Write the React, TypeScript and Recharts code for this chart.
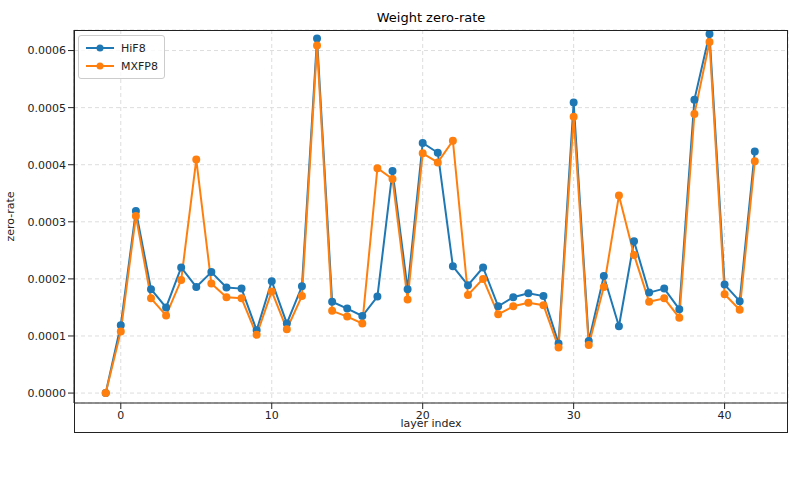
import * as React from 'react';
import { LineChart, Line, XAxis, YAxis, CartesianGrid } from 'recharts';

const layers = [-1, 0, 1, 2, 3, 4, 5, 6, 7, 8, 9, 10, 11, 12, 13, 14, 15, 16, 17, 18, 19, 20, 21, 22, 23, 24, 25, 26, 27, 28, 29, 30, 31, 32, 33, 34, 35, 36, 37, 38, 39, 40, 41, 42];
const hif8 = [0, 0.000119, 0.000319, 0.000182, 0.00015, 0.00022, 0.000186, 0.000212, 0.000185, 0.000183, 0.00011, 0.000196, 0.000122, 0.000187, 0.000621, 0.00016, 0.000148, 0.000135, 0.000169, 0.000389, 0.000182, 0.000438, 0.000421, 0.000222, 0.000189, 0.00022, 0.000152, 0.000168, 0.000175, 0.00017, 0.000087, 0.000509, 0.000091, 0.000205, 0.000117, 0.000266, 0.000176, 0.000183, 0.000147, 0.000514, 0.000629, 0.00019, 0.000161, 0.000423];
const mxfp8 = [0, 0.000108, 0.00031, 0.000166, 0.000136, 0.000198, 0.000409, 0.000192, 0.000168, 0.000166, 0.000102, 0.000178, 0.000112, 0.00017, 0.000609, 0.000144, 0.000134, 0.000122, 0.000394, 0.000375, 0.000164, 0.00042, 0.000404, 0.000442, 0.000172, 0.0002, 0.000138, 0.000152, 0.000158, 0.000154, 0.00008, 0.000484, 0.000084, 0.000186, 0.000346, 0.000242, 0.00016, 0.000166, 0.000132, 0.000489, 0.000615, 0.000173, 0.000146, 0.000406];
const xTicks = [0, 10, 20, 30, 40];
const yTicks = [0, 0.0001, 0.0002, 0.0003, 0.0004, 0.0005, 0.0006];

const data = layers.map((l, i) => ({ layer: l, HiF8: hif8[i], MXFP8: mxfp8[i] }));
const font = 'DejaVu Sans, sans-serif';

function LegendBox() {
  const items = [
    { name: 'HiF8', color: '#1f77b4' },
    { name: 'MXFP8', color: '#ff7f0e' },
  ];
  return (
    <div style={{ position: 'absolute', left: 78, top: 35, border: '1px solid #ccc', borderRadius: 3, background: 'rgba(255,255,255,0.8)', padding: '3px 6px', fontFamily: font, fontSize: 11 }}>
      {items.map((it) => (
        <div key={it.name} style={{ display: 'flex', alignItems: 'center', height: 18 }}>
          <svg width={30} height={10}>
            <line x1={1} y1={5} x2={29} y2={5} stroke={it.color} strokeWidth={2} />
            <circle cx={15} cy={5} r={3.5} fill={it.color} />
          </svg>
          <span style={{ marginLeft: 6, color: '#222' }}>{it.name}</span>
        </div>
      ))}
    </div>
  );
}

export default function App() {
  return (
    <div style={{ position: 'fixed', left: 0, top: 0, width: 801, height: 481, background: '#fff' }}>
      <div style={{ position: 'absolute', top: 10, left: 74, width: 714, textAlign: 'center', fontFamily: font, fontSize: 13 }}>
        Weight zero-rate
      </div>
      <LineChart width={801} height={481} data={data} margin={{ top: 30, right: 13, bottom: 48, left: 0 }}>
        <CartesianGrid stroke="#ddd" strokeDasharray="4 3" />
        <XAxis
          dataKey="layer"
          type="number"
          domain={[-3.1, 44.2]}
          ticks={xTicks}
          tick={{ fontSize: 11, fill: '#222', fontFamily: font }}
          stroke="#222"
          label={{ value: 'layer index', position: 'insideBottom', offset: 6, fontSize: 11, fill: '#222', fontFamily: font }}
        />
        <YAxis
          type="number"
          domain={[-0.0000174, 0.000636]}
          ticks={yTicks}
          width={74}
          tickFormatter={(v: number) => v.toFixed(4)}
          tick={{ fontSize: 11, fill: '#222', fontFamily: font }}
          stroke="#222"
          label={{ value: 'zero-rate', angle: -90, position: 'insideLeft', offset: 10, fontSize: 11, fill: '#222', fontFamily: font, style: { textAnchor: 'middle' } }}
        />
        <Line dataKey="HiF8" stroke="#1f77b4" strokeWidth={2} dot={{ r: 3, fill: '#1f77b4', stroke: '#1f77b4' }} isAnimationActive={false} />
        <Line dataKey="MXFP8" stroke="#ff7f0e" strokeWidth={2} dot={{ r: 3, fill: '#ff7f0e', stroke: '#ff7f0e' }} isAnimationActive={false} />
      </LineChart>
      <div style={{ position: 'absolute', left: 74, top: 30, width: 714, height: 403, border: '1px solid #222', boxSizing: 'border-box', pointerEvents: 'none' }} />
      <LegendBox />
    </div>
  );
}
